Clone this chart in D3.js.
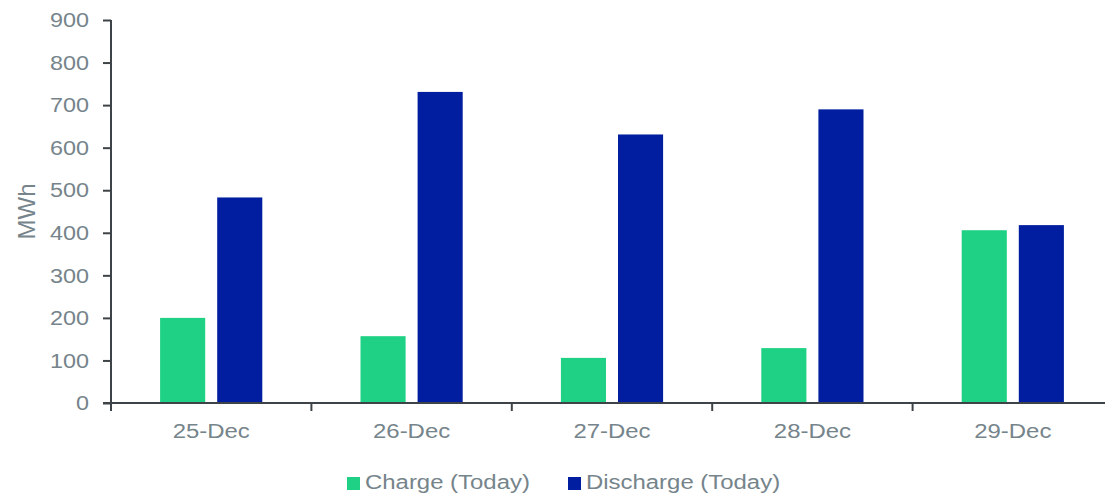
<!DOCTYPE html>
<html>
<head>
<meta charset="utf-8">
<script src="https://cdn.jsdelivr.net/npm/d3@7"></script>
<style>
  html, body { margin: 0; padding: 0; background: #ffffff; }
  svg { display: block; }
  text { font-family: "Liberation Sans", Arial, sans-serif; fill: #76848b; }
</style>
</head>
<body>
<script>
// Daily battery energy, MWh
const categories = ["25-Dec", "26-Dec", "27-Dec", "28-Dec", "29-Dec"];
const seriesNames = ["Charge (Today)", "Discharge (Today)"];
const chargeValues = [200, 157, 106, 129, 406];
const dischargeValues = [483, 731, 631, 690, 418];
const yTicks = [0, 100, 200, 300, 400, 500, 600, 700, 800, 900];
const seriesColors = ["#1fd184", "#001e9f"];

const width = 1105, height = 496;
const plotLeft = 111, plotTop = 20, plotBottom = 403, plotRight = 1113;
const axisColor = "#3e4347";
const stretch = 1.14;

const svg = d3.select("body").append("svg")
  .attr("width", width).attr("height", height);

const x = d3.scaleBand().domain(categories).range([plotLeft, plotRight]).padding(0);
const xInner = d3.scaleBand().domain(seriesNames).range([0, x.bandwidth()])
  .paddingInner(0.21).paddingOuter(0.86);
const y = d3.scaleLinear().domain([0, 900]).range([plotBottom, plotTop]);

const rows = categories.map((c, i) => ({ cat: c, values: [chargeValues[i], dischargeValues[i]] }));

// bars
const groups = svg.append("g").selectAll("g").data(rows).join("g")
  .attr("transform", d => `translate(${x(d.cat)},0)`);
groups.selectAll("rect")
  .data(d => d.values.map((v, k) => ({ name: seriesNames[k], v, k })))
  .join("rect")
  .attr("x", d => xInner(d.name))
  .attr("width", xInner.bandwidth())
  .attr("y", d => y(d.v))
  .attr("height", d => y(0) - y(d.v))
  .attr("fill", d => seriesColors[d.k]);

// y axis
const yAxis = svg.append("g").attr("transform", `translate(${plotLeft},0)`)
  .call(d3.axisLeft(y).tickValues(yTicks).tickSize(8).tickPadding(0).tickFormat(d3.format("d")));
yAxis.select(".domain").attr("stroke", axisColor).attr("stroke-width", 2)
  .attr("d", `M0,${plotTop}V${plotBottom}`);
yAxis.selectAll(".tick line").attr("stroke", axisColor).attr("stroke-width", 2);
yAxis.selectAll(".tick text").remove();
yAxis.selectAll(".tick").append("text")
  .attr("transform", `translate(-22,0) scale(${stretch},1)`)
  .attr("text-anchor", "end")
  .attr("dy", "0.33em")
  .style("font-size", "20.5px")
  .style("fill", "#76848b")
  .style("font-family", "'Liberation Sans', Arial, sans-serif")
  .text(d => d3.format("d")(d));

// x axis
const xAxis = svg.append("g").attr("transform", `translate(0,${plotBottom})`);
xAxis.append("line")
  .attr("x1", plotLeft - 8).attr("x2", plotRight)
  .attr("stroke", axisColor).attr("stroke-width", 2);
const boundaries = categories.map(c => x(c));
xAxis.selectAll("line.tick").data(boundaries).join("line")
  .attr("class", "tick")
  .attr("x1", d => d).attr("x2", d => d)
  .attr("y1", 0).attr("y2", 8)
  .attr("stroke", axisColor).attr("stroke-width", 2);
xAxis.selectAll("text").data(categories).join("text")
  .attr("transform", d => `translate(${x(d) + x.bandwidth() / 2},35) scale(${stretch},1)`)
  .attr("text-anchor", "middle")
  .style("font-size", "21px")
  .text(d => d);

// y axis title
svg.append("text")
  .attr("transform", `translate(35,${(plotTop + plotBottom) / 2}) rotate(-90)`)
  .attr("text-anchor", "middle")
  .style("font-size", "24px")
  .text("MWh");

// legend
const legendItems = [
  { name: seriesNames[0], color: seriesColors[0], x: 347 },
  { name: seriesNames[1], color: seriesColors[1], x: 568 }
];
const legend = svg.append("g");
legendItems.forEach(it => {
  legend.append("rect").attr("x", it.x).attr("y", 477).attr("width", 13).attr("height", 13)
    .attr("fill", it.color);
  legend.append("text")
    .attr("transform", `translate(${it.x + 18},489) scale(${stretch},1)`)
    .style("font-size", "21px")
    .text(it.name);
});
</script>
</body>
</html>
